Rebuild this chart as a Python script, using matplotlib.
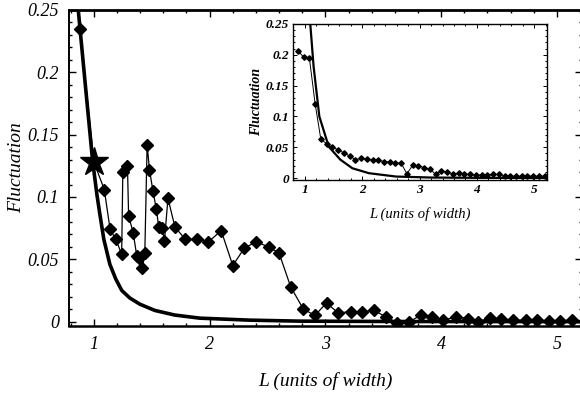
import matplotlib
matplotlib.use("Agg")
import matplotlib.pyplot as plt
from matplotlib.ticker import MultipleLocator, FixedLocator

# ---------------- data ----------------
# main measured series (diamonds)
main_L = [0.88, 1.00, 1.09, 1.14, 1.19, 1.24, 1.25, 1.29, 1.30, 1.34, 1.37, 1.39,
          1.42, 1.44, 1.46, 1.48, 1.51, 1.54, 1.56, 1.59, 1.61, 1.64, 1.70, 1.79,
          1.89, 1.99, 2.10, 2.20, 2.30, 2.40, 2.51, 2.60, 2.70, 2.81, 2.91, 3.01,
          3.11, 3.22, 3.32, 3.42, 3.52, 3.62, 3.72, 3.83, 3.92, 4.02, 4.13, 4.23,
          4.32, 4.42, 4.52, 4.62, 4.73, 4.83, 4.93, 5.03, 5.13]
main_F = [0.235, 0.128, 0.106, 0.074, 0.066, 0.054, 0.120, 0.125, 0.085, 0.071, 0.053, 0.051,
          0.043, 0.055, 0.142, 0.122, 0.105, 0.090, 0.076, 0.075, 0.065, 0.099, 0.076, 0.066,
          0.066, 0.064, 0.073, 0.045, 0.059, 0.064, 0.060, 0.055, 0.028, 0.010, 0.005, 0.015,
          0.007, 0.008, 0.008, 0.009, 0.004, -0.001, -0.0005, 0.0056, 0.0035, 0.0013, 0.004, 0.0025,
          0.0, 0.003, 0.002, 0.001, 0.001, 0.001, 0.0007, 0.0007, 0.001]

# highlighted point (star)
star_L = [1.0]
star_F = [0.128]

# main theoretical curve (thick line)
curve_L = [0.865, 0.927, 0.989, 1.026, 1.052, 1.086, 1.138, 1.190, 1.241, 1.310,
           1.397, 1.526, 1.698, 1.914, 2.345, 2.776, 3.64, 5.25]
curve_F = [0.250, 0.189, 0.129, 0.102, 0.086, 0.066, 0.046, 0.034, 0.025, 0.019,
           0.014, 0.009, 0.0053, 0.0028, 0.0012, 0.0004, 0.0001, 0.0]

# inset series
inset_L = [0.88, 0.98, 1.08, 1.18, 1.28, 1.38, 1.48, 1.58, 1.68, 1.78, 1.88, 1.98,
           2.08, 2.18, 2.28, 2.38, 2.48, 2.58, 2.68, 2.78, 2.88, 2.98, 3.08, 3.18,
           3.28, 3.38, 3.48, 3.58, 3.68, 3.78, 3.88, 3.98, 4.08, 4.18, 4.28, 4.38,
           4.48, 4.58, 4.68, 4.78, 4.88, 4.98, 5.08, 5.18]
inset_F = [0.207, 0.196, 0.195, 0.121, 0.063, 0.056, 0.050, 0.046, 0.041, 0.036, 0.030, 0.032,
           0.031, 0.030, 0.029, 0.027, 0.026, 0.025, 0.024, 0.007, 0.021, 0.020, 0.017, 0.015,
           0.006, 0.012, 0.010, 0.007, 0.008, 0.007, 0.006, 0.005, 0.005, 0.005, 0.006, 0.006,
           0.004, 0.003, 0.003, 0.003, 0.003, 0.003, 0.003, 0.003]

# inset theoretical curve
icurve_L = [1.096, 1.154, 1.254, 1.418, 1.62, 1.83, 2.12, 2.59, 3.2, 4.0, 5.25]
icurve_F = [0.250, 0.181, 0.100, 0.051, 0.030, 0.016, 0.008, 0.0026, 0.001, 0.0005, 0.0003]

x_ticks = [1, 2, 3, 4, 5]
x_ticklabels = ["1", "2", "3", "4", "5"]
y_ticks = [0, 0.05, 0.1, 0.15, 0.2, 0.25]
y_ticklabels = ["0", "0.05", "0.1", "0.15", "0.2", "0.25"]

xlabel = "L (units of width)"
ylabel = "Fluctuation"

# ---------------- figure ----------------
plt.rcParams['font.family'] = ['Liberation Serif', 'DejaVu Serif']
plt.rcParams['font.style'] = 'italic'

W, H = 580, 394
fig = plt.figure(figsize=(W / 100, H / 100), dpi=100)

def fx(px):
    return px / W

def fy(py):
    return 1 - py / H

ax = fig.add_axes([fx(69), fy(326), fx(580) - fx(69) + 0.004, fy(10) - fy(326)])
ax.plot(curve_L, curve_F, color='black', lw=2.6, solid_joinstyle='round', zorder=2)
ax.plot(main_L, main_F, color='black', lw=0.9, marker='D', ms=6.0, mfc='black',
        mec='black', zorder=3)
ax.plot(star_L, star_F, linestyle='none', marker='*', ms=21, color='black', zorder=4)

ax.set_xlim(0.785, 5.22)
ax.set_ylim(-0.0035, 0.25)
ax.xaxis.set_major_locator(FixedLocator(x_ticks))
ax.set_xticklabels(x_ticklabels)
ax.xaxis.set_minor_locator(MultipleLocator(0.2))
ax.yaxis.set_major_locator(FixedLocator(y_ticks))
ax.set_yticklabels(y_ticklabels)
ax.yaxis.set_minor_locator(MultipleLocator(0.01))
ax.tick_params(which='both', direction='in', top=True, right=True, labelsize=13,
               width=1.0, colors='black')
ax.tick_params(which='major', length=5, pad=7)
ax.tick_params(which='minor', length=2.5)
ax.spines['right'].set_visible(False)
ax.spines['top'].set_linewidth(2.0)
ax.spines['bottom'].set_linewidth(1.8)
ax.spines['left'].set_linewidth(1.4)
ax.set_xlabel(xlabel, fontsize=14, labelpad=14)
ax.set_ylabel(ylabel, fontsize=14, labelpad=2)

# ---------------- inset ----------------
ins = fig.add_axes([fx(293), fy(180), fx(547) - fx(293), fy(24) - fy(180)])
ins.plot(icurve_L, icurve_F, color='black', lw=1.6, zorder=2)
ins.plot(inset_L, inset_F, color='black', lw=0.7, marker='D', ms=2.8, zorder=3)
ins.set_xlim(0.795, 5.22)
ins.set_ylim(-0.003, 0.25)
ins.xaxis.set_major_locator(FixedLocator(x_ticks))
ins.set_xticklabels(x_ticklabels)
ins.xaxis.set_minor_locator(MultipleLocator(0.2))
ins.yaxis.set_major_locator(FixedLocator(y_ticks))
ins.set_yticklabels(y_ticklabels)
ins.yaxis.set_minor_locator(MultipleLocator(0.01))
ins.tick_params(which='both', direction='in', top=True, right=True, labelsize=9.5,
                width=0.7, colors='black', pad=3)
ins.tick_params(which='major', length=3)
ins.tick_params(which='minor', length=1.5)
for lab in ins.get_xticklabels() + ins.get_yticklabels():
    lab.set_fontweight('bold')
for sp in ins.spines.values():
    sp.set_linewidth(1.0)
ins.set_xlabel(xlabel, fontsize=10.5, labelpad=8)
ins.set_ylabel(ylabel, fontsize=10, fontweight='bold', labelpad=2)

fig.savefig("out.png", dpi=100)
